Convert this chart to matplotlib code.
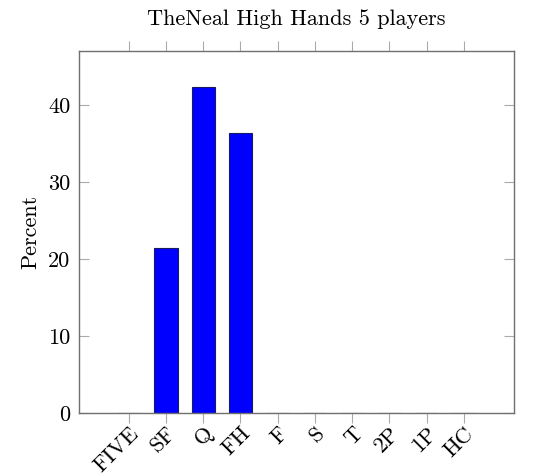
import matplotlib
matplotlib.use("Agg")
import matplotlib.pyplot as plt
import numpy as np

categories = ["FIVE", "SF", "Q", "FH", "F", "S", "T", "2P", "1P", "HC"]
percent = [0.0, 21.4, 42.3, 36.3, 0.0, 0.0, 0.0, 0.0, 0.0, 0.0]
yticks = [0, 10, 20, 30, 40]

plt.rcParams['font.family'] = ['cmr10', 'DejaVu Serif']
plt.rcParams['axes.formatter.use_mathtext'] = True

fig = plt.figure(figsize=(5.48, 4.75), dpi=100)
ax = fig.add_axes([0.144, 0.1305, 0.794, 0.762])

x = np.arange(len(categories))
ax.bar(x, percent, width=0.62, color='#0000ff', edgecolor='#1a1a60', linewidth=0.8)

ax.set_xlim(-1.34, 10.35)
ax.set_ylim(0, 47)
ax.set_xticks(x)
ax.set_xticklabels(categories, rotation=45, ha='right', rotation_mode='anchor', fontsize=16)
ax.set_yticks(yticks)
ax.set_yticklabels([str(v) for v in yticks], fontsize=16)

ax.tick_params(axis='x', direction='out', length=7, color='#aaaaaa', top=True, bottom=True, pad=0.5)
ax.tick_params(axis='y', direction='in', length=7, color='#aaaaaa', left=True, right=True, pad=6)

for s in ax.spines.values():
    s.set_color('#707070')
    s.set_linewidth(1.0)

ax.set_ylabel('Percent', fontsize=16, labelpad=6)
ax.set_title('TheNeal High Hands 5 players', fontsize=16, pad=19)

fig.savefig('out.png', dpi=100)
